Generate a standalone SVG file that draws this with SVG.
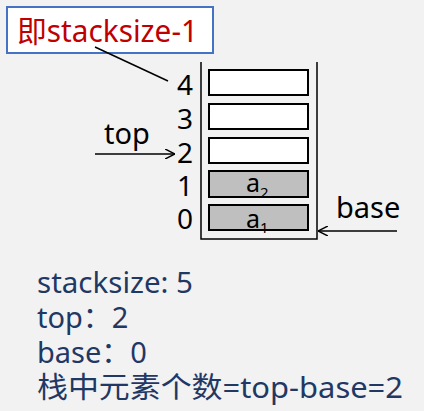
<svg xmlns="http://www.w3.org/2000/svg" width="424" height="411" viewBox="0 0 424 411">
<style>
text{font-family:"Noto Sans","Noto Sans CJK SC",sans-serif}
.num{font-size:28px;fill:#000;text-anchor:middle}
.cell{stroke:#000;stroke-width:2;fill:#fff}
.full{fill:#bfbfbf}
.ln{stroke:#000;stroke-width:1.5;fill:none}
.info{font-size:29px;fill:#1f3864}
.lbl{font-size:29px;fill:#000}
.a{font-size:25px;fill:#000}
.sub{font-size:15px}
</style>
<defs>
<marker id="ar" viewBox="0 0 10 10" refX="10" refY="5" markerWidth="10" markerHeight="10" markerUnits="userSpaceOnUse" orient="auto">
<path d="M0,0 L10,5 L0,10" fill="none" stroke="#000" stroke-width="1.5"/>
</marker>
</defs>
<rect width="424" height="411" fill="#f2f2f2"/>
<g id="label">
<rect x="7" y="7" width="206" height="46" fill="#fff" stroke="#4472c4" stroke-width="2"/>
<text x="17" y="42" font-size="30" fill="#c00000" textLength="181" lengthAdjust="spacingAndGlyphs">即stacksize-1</text>
</g>
<g id="stack">
<path class="ln" d="M201,62 V239 H317 V62" stroke-width="2"/>
<rect id="cell4" class="cell" x="209" y="70" width="99" height="25"/>
<rect id="cell3" class="cell" x="209" y="104" width="99" height="25"/>
<rect id="cell2" class="cell" x="209" y="138" width="99" height="25"/>
<g id="cell1"><rect class="cell full" x="209" y="171" width="99" height="26"/>
<text class="a" x="246" y="192">a<tspan class="sub" dy="6">2</tspan></text></g>
<g id="cell0"><rect class="cell full" x="209" y="205" width="99" height="25"/>
<text class="a" x="246" y="228">a<tspan class="sub" dy="5">1</tspan></text></g>
<text class="num" x="185" y="95">4</text>
<text class="num" x="185" y="129">3</text>
<text class="num" x="185" y="163">2</text>
<text class="num" x="185" y="196">1</text>
<text class="num" x="185" y="229">0</text>
</g>
<g id="top"><text class="lbl" x="104" y="144">top</text></g>
<g id="base"><text class="lbl" x="336" y="218">base</text></g>
<g id="connectors">
<line class="ln" x1="95" y1="47" x2="168" y2="81"/>
<line class="ln" x1="95" y1="154" x2="175" y2="154" marker-end="url(#ar)"/>
<line class="ln" x1="397" y1="231" x2="318" y2="231" marker-end="url(#ar)"/>
</g>
<g id="info">
<text class="info" x="37" y="293" textLength="156" lengthAdjust="spacingAndGlyphs">stacksize: 5</text>
<text class="info" x="37" y="328">top：2</text>
<text class="info" x="37" y="363">base：0</text>
<text class="info" x="37" y="398" textLength="366" lengthAdjust="spacingAndGlyphs">栈中元素个数=top-base=2</text>
</g>
</svg>
